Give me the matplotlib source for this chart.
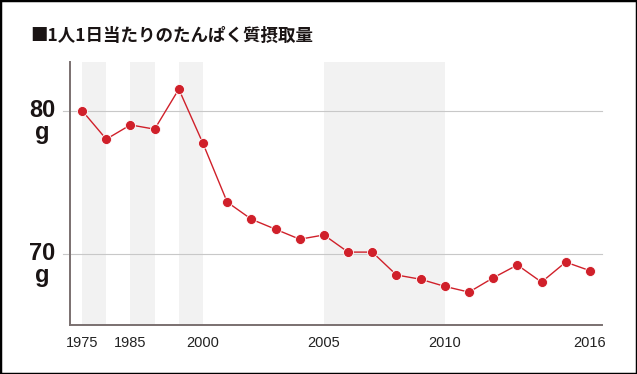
import matplotlib.pyplot as plt
from matplotlib.patches import Rectangle

plt.rcParams['font.family'] = ['Liberation Sans', 'DejaVu Sans']

# survey years (5-year steps up to 2000, then yearly)
years = [1975, 1980, 1985, 1990, 1995, 2000, 2001, 2002, 2003, 2004, 2005,
         2006, 2007, 2008, 2009, 2010, 2011, 2012, 2013, 2014, 2015, 2016]
protein = [80.0, 78.0, 79.0, 78.7, 81.5, 77.7, 73.6, 72.4, 71.7, 71.0, 71.3,
           70.1, 70.1, 68.5, 68.2, 67.7, 67.3, 68.3, 69.2, 68.0, 69.4, 68.8]
tick_years = [1975, 1985, 2000, 2005, 2010, 2016]
shade_spans = [(1975, 1980), (1985, 1990), (1995, 2000), (2005, 2010)]
y_marks = [80, 70]

title = "■1人1日当たりのたんぱく質摂取量"
red = "#d0202a"

fig = plt.figure(figsize=(6.37, 3.74), dpi=100)
W, H = 637, 374
ax = fig.add_axes([70 / W, 1 - 325 / H, (602 - 70) / W, (325 - 62) / H])

xs = list(range(len(years)))
ax.set_xlim(-0.5, len(years) - 0.5)
ax.set_ylim(65.0, 83.4)

# shaded periods
for a, b in shade_spans:
    ax.axvspan(years.index(a), years.index(b), color="#f2f2f2", lw=0, zorder=0)

# grid lines (they poke out a little left of the axis)
for v in y_marks:
    ax.axhline(v, xmin=-0.013, xmax=1, color="#c8c8c8", lw=0.8, clip_on=False, zorder=1)

ax.plot(xs, protein, color=red, lw=1.0, zorder=3)
ax.scatter(xs, protein, s=52, color=red, edgecolors="white", linewidths=0.6, zorder=4)

for s in ["top", "right"]:
    ax.spines[s].set_visible(False)
ax.spines["left"].set_color("#7a7070")
ax.spines["bottom"].set_color("#7a7070")
ax.spines["left"].set_linewidth(1.4)
ax.spines["bottom"].set_linewidth(1.4)

ax.set_yticks([])
ax.set_xticks([years.index(y) for y in tick_years])
ax.set_xticklabels([str(y) for y in tick_years], fontsize=10.5, color="#222222")
ax.tick_params(axis="x", length=0, pad=8)

# big y labels "80 / g"
for v in y_marks:
    ax.annotate(str(v), xy=(0, v), xycoords=("axes fraction", "data"),
                xytext=(-20, 0), textcoords="offset points", ha="center", va="center",
                fontsize=17, fontweight="bold", color="#1a1414")
    ax.annotate("g", xy=(0, v), xycoords=("axes fraction", "data"),
                xytext=(-20, -16), textcoords="offset points", ha="center", va="center",
                fontsize=17, fontweight="bold", color="#1a1414")

fig.text(30 / W, 1 - 36 / H, title, fontsize=12.6, fontweight="bold",
         family=["Noto Sans CJK JP", "DejaVu Sans"], va="center", ha="left", color="#1a1414")

# outer frame
fig.patches.append(Rectangle((0, 0), 1, 1, transform=fig.transFigure, fill=False,
                             edgecolor="black", lw=2.5))

fig.savefig("out.png", dpi=100)
